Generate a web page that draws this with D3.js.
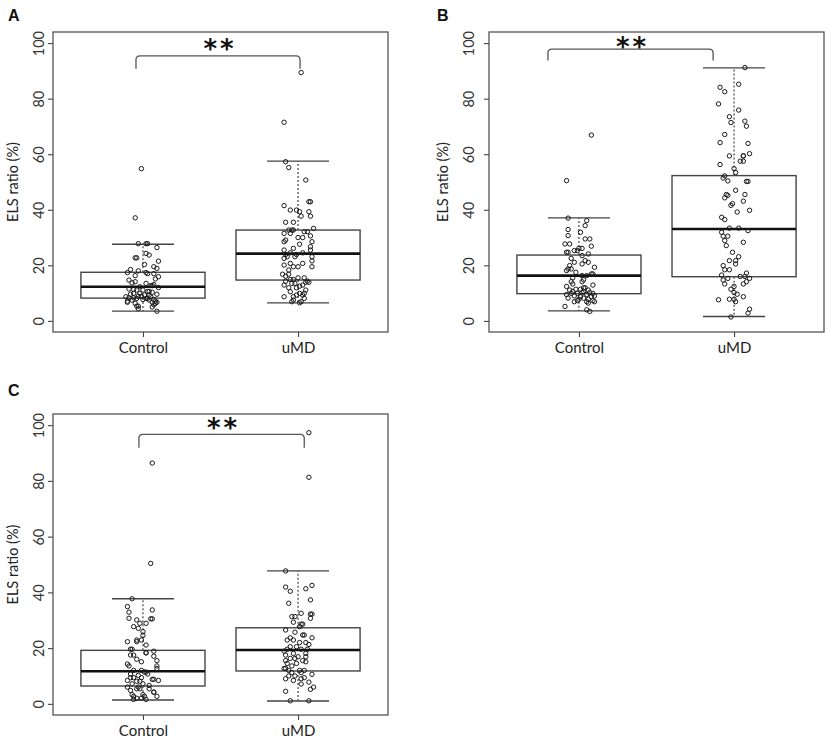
<!DOCTYPE html>
<html>
<head>
<meta charset="utf-8">
<script src="https://cdn.jsdelivr.net/npm/d3@7"></script>
<style>
body { margin: 0; background: #fff; }
</style>
</head>
<body>
<script>
//global variables for page size
var w = 829, h = 750;

//categories and axis ticks
var groups = ["Control", "uMD"];
var yTicks = [0, 20, 40, 60, 80, 100];

//box stats per group: [lower whisker, q1, median, q3, upper whisker]
var statsA = [[3.5, 8.2, 12.3, 17.5, 27.6], [6.5, 14.7, 24.2, 32.7, 57.5]];
var statsB = [[3.6, 9.8, 16.3, 23.7, 37.1], [1.6, 15.9, 33.1, 52.3, 91.1]];
var statsC = [[1.4, 6.4, 11.7, 19.2, 37.7], [1.0, 11.8, 19.3, 27.3, 47.7]];

//points: [ELS ratio, jitter in % of category spacing]
var ptsAControl = [[54.8,-1],[37.1,-5],[27.8,-3],[27.8,2],[27.8,3],[26.4,9],[24.3,2],[23.7,4],[22.7,-5],[22.7,-4],
  [21.5,10],[20.3,1],[19.5,7],[18.9,9],[18.5,-8],[18,-3],[17.4,-10],[17.4,2],[17,3],[17,7],[16.3,-5],[15.9,10],
  [15.1,8],[14.7,-9],[14.1,-5],[13.7,-7],[13.5,2],[13.1,7],[12.7,6],[12.7,5],[12.3,-2],[12,10],[11.5,-9],[11.3,-6],
  [11.1,-4],[11.1,0],[10.6,3],[10.6,4],[10.3,6],[9.9,-2],[9.9,-6],[9.6,-8],[9.6,9],[9.3,1],[9.3,4],[8.9,-3],[8.9,-1],
  [8.7,5],[8.7,-11],[8.3,-9],[8.3,-6],[8.1,-4],[8.1,2],[8.1,3],[7.7,0],[7.7,7],[7.5,-7],[7.5,4],[7.1,-10],[7.1,8],
  [6.7,-10],[6.7,6],[6.7,9],[6.3,-5],[6.3,8],[5.8,7],[5.3,-4],[5.3,-3],[5,6],[4.4,-3],[3.5,9]];
var ptsAuMD = [[89.4,2],[71.5,-9],[57.3,-8],[55.2,-6],[50.7,5],[42.9,8],[42.9,7],[41.5,-9],[39.9,-5],[39.9,-1],
  [39.3,7],[39.3,1],[37.7,2],[37.7,8],[35.5,-8],[35.5,-3],[33.3,10],[32.7,-4],[32.7,-6],[32.7,-3],[32.1,4],[32.1,6],
  [31.5,-9],[31.5,-5],[30.6,8],[30,0],[30,3],[29.1,-8],[28.5,-9],[28.5,9],[27.6,1],[26.7,8],[26.1,-3],[25.5,-9],
  [25.5,8],[24.5,-5],[24.5,3],[23.9,-8],[23.9,-1],[23.1,-7],[23.1,-2],[23.1,9],[22.5,-9],[21.6,9],[20.7,-5],[20.7,3],
  [20.1,-9],[19.5,9],[19.5,0],[19.5,-3],[18.3,-6],[16.8,-10],[16.8,-6],[16.1,-8],[15.5,0],[15.5,4],[14.9,-3],[14.9,-5],
  [14.3,-8],[14.3,6],[13.9,7],[13.9,5],[13.5,-2],[13.5,-4],[12.9,-9],[12.9,3],[12.5,1],[11.9,-6],[11.9,-1],[11.1,5],
  [10.5,-5],[9.9,1],[9.9,4],[9.3,-1],[9.3,3],[8.7,-9],[8.7,-3],[8.1,4],[7.5,-3],[6.9,-4],[6.9,2],[6.5,1]];
var ptsBControl = [[66.9,8],[50.5,-8],[37,-7],[36.1,5],[34.3,4],[32.9,-7],[31.9,1],[30.7,-7],[29.5,4],[29.5,7],
  [27.7,-9],[27.7,-6],[26.9,8],[26.1,0],[26.1,2],[25.3,-3],[25.3,-1],[24.7,-8],[24.7,-7],[24.1,6],[23.5,2],[22.5,-5],
  [21.7,4],[21.1,-3],[21.1,6],[20.5,2],[19.9,-6],[19.3,10],[18.7,-7],[18.7,-5],[18.1,-8],[17.5,-2],[16.9,8],[16.9,9],
  [16.3,5],[16.3,2],[15.5,-4],[14.8,3],[14.1,2],[14.1,-5],[13.3,-4],[12.9,9],[12.4,-8],[11.9,3],[11.9,4],[11.4,1],
  [11.4,-2],[11.1,-6],[11.1,6],[10.6,-4],[10.6,3],[10.2,7],[10.2,2],[9.9,-1],[9.9,9],[9.9,-5],[9.5,-8],[9.5,5],
  [9,-3],[9,10],[8.7,1],[8.7,8],[8.2,-7],[8.2,3],[7.8,6],[7.8,0],[7.3,-1],[7.3,9],[6.9,-3],[6.9,5],[6.9,10],
  [6.4,6],[5.2,-9],[4,5],[3.4,7]];
var ptsBuMD = [[91.2,7],[85.2,3],[84.1,-9],[82.5,-6],[78.1,-10],[75.9,3],[73.5,-3],[71.9,7],[71.4,-2],[70.1,8],
  [67.1,-6],[64.2,-9],[63.9,9],[60.2,10],[59.4,-3],[59.4,6],[59.4,6],[57.5,6],[57.5,4],[56.3,-9],[54.8,0],[53.4,1],
  [52.2,-6],[51.4,-7],[50.4,-4],[50.2,8],[50.2,9],[47,1],[45.5,-5],[45.5,7],[45.2,-4],[44.3,-6],[43.1,6],[42.2,-1],
  [41.6,-2],[39.8,10],[39.2,2],[37.3,-8],[36.5,-6],[33.4,3],[33.4,-3],[32.5,9],[31.9,-8],[30.5,-7],[30.5,-4],
  [28.9,-6],[28.3,6],[27.1,-5],[24.7,-1],[23.1,3],[21.7,-3],[21.7,1],[20.5,1],[19.9,-7],[18.4,-3],[18.4,-6],[17.2,8],
  [16.5,-8],[16,7],[16,4],[15.3,-4],[15.3,10],[14.7,-7],[14.1,8],[13.3,-6],[13.3,6],[12.4,0],[11.4,-2],[10.2,0],
  [9.6,2],[8.7,6],[7.8,-3],[7.8,0],[7.6,-10],[6.9,1],[4.2,10],[2.8,9],[1.4,-2]];
var ptsCControl = [[86.4,6],[50.4,5],[37.7,-7],[34.9,-10],[33.7,6],[32.9,-9],[30.7,-9],[30.5,5],[30.5,6],[30.1,-4],
  [28.9,2],[28.9,-2],[27.7,-6],[27.1,-3],[25.9,0],[24.5,0],[22.9,-1],[22.9,-4],[22.3,-10],[22.3,-4],[21.1,2],
  [19.6,-8],[19.6,-7],[18.9,7],[18.3,2],[18.3,2],[17.5,-6],[17.5,-8],[17.1,7],[16,-4],[15.5,9],[15.1,-1],[14.3,-10],
  [13.6,9],[13.6,-9],[12.7,9],[12,-6],[12,-1],[11.4,1],[11.4,2],[10.7,-8],[10.7,3],[10.2,-3],[9.4,-6],[9.4,-8],
  [9.4,-1],[8.8,6],[8.8,7],[8.4,-10],[8.4,10],[8.1,-4],[8.1,-2],[7.2,-7],[7.2,0],[6.6,4],[6,-10],[6,-3],[5.4,-2],
  [5.4,-4],[5.4,4],[4.8,-8],[4.2,7],[4.2,7],[3.3,-7],[3.3,0],[2.7,-6],[2.7,1],[2.7,9],[2,-4],[2,-1],[1.6,-6],[1.6,2]];
var ptsCuMD = [[97.3,7],[81.3,7],[47.7,-8],[42.5,9],[41.9,-8],[41.3,5],[40.4,-5],[37.3,8],[36.1,-6],[32.5,2],
  [32.2,8],[32.2,9],[31.3,-2],[31.3,-4],[30.7,8],[29.3,-3],[28.6,3],[28.6,2],[27.7,1],[26.5,-8],[25.7,-2],[24.7,3],
  [24.7,4],[23.7,-5],[23.7,9],[22.9,-7],[22.9,-3],[22,1],[22,5],[21.3,7],[20.5,-1],[20.5,-5],[19.6,-7],[19.6,2],
  [19.6,6],[18.9,-9],[18.1,-3],[18.1,5],[17.5,-8],[16.9,0],[16.9,5],[16.3,-5],[16.3,-2],[15.5,-8],[15.5,3],[15.1,5],
  [14.5,-7],[14.5,-1],[13.6,-4],[12.7,-9],[12.7,-8],[12,-6],[12,1],[12,4],[11.2,-4],[11.2,2],[10.6,9],[10,-6],
  [10,-2],[9.4,4],[9,-8],[9,2],[8.4,-3],[7.8,7],[7.1,2],[6,10],[5.2,8],[4.5,-8],[1.1,-5],[1.1,7]];

//panel frames on the page
var panels = [
  {letter: "A", lx: 8, ly: 21, x0: 53, y0: 32, pw: 335, ph: 300, tickGap: 9, titleDx: 35,
   stats: statsA, pts: [ptsAControl, ptsAuMD], br: [0.955, 2.013, 95.4, 90.8], star: 99.8},
  {letter: "B", lx: 437, ly: 21, x0: 489, y0: 32, pw: 335, ph: 300, tickGap: 15, titleDx: 41,
   stats: statsB, pts: [ptsBControl, ptsBuMD], br: [0.80, 1.865, 97.8, 93.7], star: 100.5},
  {letter: "C", lx: 8, ly: 396, x0: 53, y0: 414, pw: 335, ph: 301, tickGap: 9, titleDx: 35,
   stats: statsC, pts: [ptsCControl, ptsCuMD], br: [0.974, 2.04, 96.7, 91.9], star: 100.8}
];

window.onload = function(){

    var svg = d3.select("body")
        .append("svg")
        .attr("width", w)
        .attr("height", h)
        .style("background-color", "#fff");

    panels.forEach(function(p){ drawPanel(svg, p); });
};

function drawPanel(svg, p){

    var g = svg.append("g").attr("class", "panel");

    //scales, R style: 4% padding on both axes
    var x = d3.scaleLinear()
        .domain([0.42, 2.58])
        .range([p.x0, p.x0 + p.pw]);

    var y = d3.scaleLinear()
        .domain([-4, 104])
        .range([p.y0 + p.ph, p.y0]);

    var half = 0.4; //half box width in category units

    //whiskers (dashed) from box to caps
    g.selectAll(".whisker")
        .data(p.stats)
        .enter()
        .append("path")
        .attr("class", "whisker")
        .attr("d", function(d, i){
            var cx = x(i + 1);
            return "M" + cx + "," + y(d[3]) + "V" + y(d[4]) +
                   "M" + cx + "," + y(d[1]) + "V" + y(d[0]);
        })
        .style("stroke", "#333")
        .style("stroke-width", 1.1)
        .style("stroke-dasharray", "2,2")
        .style("fill", "none");

    //whisker caps, half the box width
    g.selectAll(".cap")
        .data(p.stats)
        .enter()
        .append("path")
        .attr("class", "cap")
        .attr("d", function(d, i){
            var a = x(i + 1 - half / 2), b = x(i + 1 + half / 2);
            return "M" + a + "," + y(d[0]) + "H" + b +
                   "M" + a + "," + y(d[4]) + "H" + b;
        })
        .style("stroke", "#444")
        .style("stroke-width", 1.4)
        .style("fill", "none");

    //boxes
    g.selectAll(".box")
        .data(p.stats)
        .enter()
        .append("rect")
        .attr("class", "box")
        .attr("x", function(d, i){ return x(i + 1 - half); })
        .attr("width", function(d, i){ return x(i + 1 + half) - x(i + 1 - half); })
        .attr("y", function(d){ return y(d[3]); })
        .attr("height", function(d){ return y(d[1]) - y(d[3]); })
        .style("fill", "#fff")
        .style("stroke", "#444")
        .style("stroke-width", 1.4);

    //medians
    g.selectAll(".median")
        .data(p.stats)
        .enter()
        .append("line")
        .attr("class", "median")
        .attr("x1", function(d, i){ return x(i + 1 - half); })
        .attr("x2", function(d, i){ return x(i + 1 + half); })
        .attr("y1", function(d){ return y(d[2]); })
        .attr("y2", function(d){ return y(d[2]); })
        .style("stroke", "#111")
        .style("stroke-width", 2.6);

    //jittered points, open circles
    p.pts.forEach(function(set, i){
        g.selectAll(".pt" + i)
            .data(set)
            .enter()
            .append("circle")
            .attr("class", "pt" + i)
            .attr("cx", function(d){ return x(i + 1 + d[1] / 100); })
            .attr("cy", function(d){ return y(d[0]); })
            .attr("r", 2.2)
            .style("fill", "none")
            .style("stroke", "#1a1a1a")
            .style("stroke-width", 1);
    });

    //frame
    g.append("rect")
        .attr("class", "frame")
        .attr("x", p.x0)
        .attr("y", p.y0)
        .attr("width", p.pw)
        .attr("height", p.ph)
        .style("fill", "none")
        .style("stroke", "#555")
        .style("stroke-width", 1.3);

    //y axis, labels turned like R
    var yAxis = g.append("g")
        .attr("class", "axis")
        .attr("transform", "translate(" + p.x0 + ",0)")
        .call(d3.axisLeft(y).tickValues(yTicks).tickSize(5));
    yAxis.select(".domain").remove();
    yAxis.selectAll("line").style("stroke", "#444").style("stroke-width", 1.1);
    yAxis.selectAll("text")
        .attr("transform", "rotate(-90)")
        .attr("x", 0)
        .attr("y", -p.tickGap)
        .attr("dy", 0)
        .attr("text-anchor", "middle")
        .style("font-family", "Lato, 'Open Sans', sans-serif")
        .style("font-size", "14.5px")
        .style("fill", "#333");

    //x axis
    var xAxis = g.append("g")
        .attr("class", "axis")
        .attr("transform", "translate(0," + (p.y0 + p.ph) + ")")
        .call(d3.axisBottom(x).tickValues([1, 2]).tickSize(5)
            .tickFormat(function(d){ return groups[d - 1]; }));
    xAxis.select(".domain").remove();
    xAxis.selectAll("line").style("stroke", "#444").style("stroke-width", 1.1);
    xAxis.selectAll("text")
        .attr("y", 10)
        .style("font-family", "Lato, 'Open Sans', sans-serif")
        .style("font-size", "15px")
        .style("fill", "#222");

    //axis title
    g.append("text")
        .attr("class", "ytitle")
        .attr("transform", "translate(" + (p.x0 - p.titleDx) + "," + (p.y0 + p.ph / 2) + ") rotate(-90)")
        .attr("text-anchor", "middle")
        .text("ELS ratio (%)")
        .style("font-family", "Lato, 'Open Sans', sans-serif")
        .style("font-size", "14.5px")
        .style("fill", "#222");

    //significance bracket with round corners
    var b = p.br, x1 = x(b[0]), x2 = x(b[1]), yt = y(b[2]), yb = y(b[3]), r = 4;
    g.append("path")
        .attr("class", "bracket")
        .attr("d", "M" + x1 + "," + yb + "V" + (yt + r) + "Q" + x1 + "," + yt + " " + (x1 + r) + "," + yt +
                   "H" + (x2 - r) + "Q" + x2 + "," + yt + " " + x2 + "," + (yt + r) + "V" + yb)
        .style("fill", "none")
        .style("stroke", "#555")
        .style("stroke-width", 1.3);

    //stars, centred on the glyphs
    g.append("text")
        .attr("class", "stars")
        .attr("x", (x1 + x2) / 2 + 2)
        .attr("y", y(p.star) + 14)
        .attr("text-anchor", "middle")
        .attr("letter-spacing", "3px")
        .text("**")
        .style("font-family", "'DejaVu Sans', sans-serif")
        .style("font-weight", "bold")
        .style("font-size", "26px")
        .style("fill", "#111");

    //panel letter
    g.append("text")
        .attr("class", "letter")
        .attr("x", p.lx)
        .attr("y", p.ly)
        .text(p.letter)
        .style("font-family", "'Liberation Sans', Arial, sans-serif")
        .style("font-weight", "bold")
        .style("font-size", "16px")
        .style("fill", "#111");
}
</script>
</body>
</html>
